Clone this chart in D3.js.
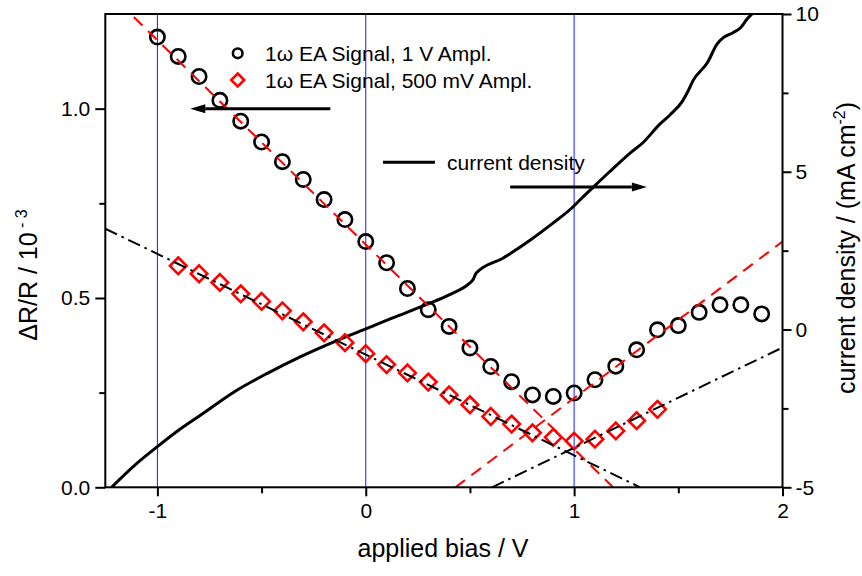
<!DOCTYPE html>
<html>
<head>
<meta charset="utf-8">
<script src="https://cdn.jsdelivr.net/npm/d3@7"></script>
<style>
  html, body { margin: 0; padding: 0; background: #fff; }
  svg text { font-family: "Liberation Sans", Arial, sans-serif; fill: #000; }
</style>
</head>
<body>
<svg id="chart" width="862" height="576"></svg>
<script>
// Electroabsorption signal (1ω) vs. applied bias, with current density on the right axis.

// 1 V modulation amplitude
const biasAmp1V = [-1.0, -0.9, -0.8, -0.7, -0.6, -0.5, -0.4, -0.3, -0.2, -0.1, 0.0, 0.1, 0.2, 0.3, 0.4,
                   0.5, 0.6, 0.7, 0.8, 0.9, 1.0, 1.1, 1.2, 1.3, 1.4, 1.5, 1.6, 1.7, 1.8, 1.9];
const signalAmp1V = [1.189, 1.138, 1.085, 1.022, 0.967, 0.912, 0.860, 0.813, 0.760, 0.707, 0.649, 0.593,
                     0.525, 0.469, 0.425, 0.368, 0.319, 0.279, 0.244, 0.240, 0.249, 0.284, 0.320, 0.363,
                     0.416, 0.427, 0.462, 0.482, 0.482, 0.458];

// 500 mV modulation amplitude
const biasAmp500mV = [-0.9, -0.8, -0.7, -0.6, -0.5, -0.4, -0.3, -0.2, -0.1, 0.0, 0.1, 0.2, 0.3, 0.4,
                      0.5, 0.6, 0.7, 0.8, 0.9, 1.0, 1.1, 1.2, 1.3, 1.4];
const signalAmp500mV = [0.585, 0.564, 0.541, 0.511, 0.491, 0.466, 0.437, 0.408, 0.382, 0.353, 0.324,
                        0.302, 0.278, 0.244, 0.218, 0.187, 0.167, 0.144, 0.132, 0.122, 0.127, 0.149,
                        0.176, 0.206];

// Current density (mA cm^-2) vs. bias
const biasJ = [-1.22, -1.10, -1.00, -0.90, -0.79, -0.63, -0.47, -0.31, -0.15, 0.00, 0.07, 0.13, 0.29,
               0.40, 0.50, 0.515, 0.53, 0.66, 0.79, 0.90, 0.99, 1.03, 1.09, 1.17, 1.27, 1.33, 1.41,
               1.46, 1.52, 1.55, 1.57, 1.64, 1.685, 1.716, 1.76, 1.80, 1.83, 1.87];
const currentJ = [-5.0, -4.25, -3.71, -3.2, -2.70, -1.97, -1.38, -0.85, -0.38, 0.02, 0.21, 0.37, 0.79,
                  1.10, 1.48, 1.58, 1.79, 2.27, 2.84, 3.38, 3.86, 4.12, 4.50, 5.00, 5.60, 5.92, 6.50,
                  6.80, 7.24, 7.60, 7.88, 8.46, 9.04, 9.25, 9.40, 9.57, 9.84, 10.1];

// Linear fits (end points, bias in V, signal in 10^-3)
const fit1VFalling = [[-1.25, 1.316], [1.187, 0]];
const fit1VRising = [[0.43, 0], [2.0, 0.649]];
const fit500mVFalling = [[-1.25, 0.683], [1.317, 0]];
const fit500mVRising = [[0.606, 0], [2.0, 0.369]];

// Reference bias lines
const guideBias = [-1, 0, 1];

// Axis ticks
const xMajor = [-1, 0, 1, 2];
const xMinor = [-0.5, 0.5, 1.5];
const yMajor = [0.0, 0.5, 1.0];
const yMinor = [0.25, 0.75];
const jMajor = [-5, 0, 5, 10];
const jMinor = [-2.5, 2.5, 7.5];

const legendLabels = ["1\u03c9 EA Signal, 1 V Ampl.", "1\u03c9 EA Signal, 500 mV Ampl.", "current density"];

// ---- layout ----
const svg = d3.select("#chart");
const plotL = 105.3, plotR = 782.5, plotT = 14, plotB = 487.3;

const x = d3.scaleLinear().domain([-1.25, 2]).range([plotL, plotR]);
const y = d3.scaleLinear().domain([0, 1.25]).range([plotB, plotT]);
const yJ = d3.scaleLinear().domain([-5, 10]).range([plotB, plotT]);

// integer labels with a plain hyphen for negatives
const intFmt = d => String(Math.round(d));

svg.append("defs").append("clipPath").attr("id", "plot-clip")
  .append("rect").attr("x", plotL).attr("y", plotT).attr("width", plotR - plotL).attr("height", plotB - plotT);

const plot = svg.append("g").attr("clip-path", "url(#plot-clip)");

// blue guide lines
plot.selectAll("line.guide").data(guideBias).join("line")
  .attr("class", "guide")
  .attr("x1", d => x(d)).attr("x2", d => x(d))
  .attr("y1", plotT).attr("y2", plotB)
  .attr("stroke", "#1a1aff").attr("stroke-width", 1);

// current density curve
const jLine = d3.line().x(d => x(d[0])).y(d => yJ(d[1])).curve(d3.curveMonotoneX);
plot.append("path")
  .datum(biasJ.map((b, i) => [b, currentJ[i]]))
  .attr("d", jLine)
  .attr("fill", "none").attr("stroke", "#000").attr("stroke-width", 3)
  .attr("stroke-linejoin", "round");

// markers: 1 V circles
plot.selectAll("circle.amp1").data(biasAmp1V.map((b, i) => [b, signalAmp1V[i]])).join("circle")
  .attr("class", "amp1")
  .attr("cx", d => x(d[0])).attr("cy", d => y(d[1])).attr("r", 7.2)
  .attr("fill", "none").attr("stroke", "#000").attr("stroke-width", 2.6);

// markers: 500 mV diamonds
const diamond = (cx, cy, h) => `M${cx},${cy - h}L${cx + h},${cy}L${cx},${cy + h}L${cx - h},${cy}Z`;
plot.selectAll("path.amp500").data(biasAmp500mV.map((b, i) => [b, signalAmp500mV[i]])).join("path")
  .attr("class", "amp500")
  .attr("d", d => diamond(x(d[0]), y(d[1]), 8.3))
  .attr("fill", "none").attr("stroke", "#ff0000").attr("stroke-width", 2.6)
  .attr("stroke-linejoin", "miter");

// fit lines
const seg = d3.line().x(d => x(d[0])).y(d => y(d[1]));
[fit1VFalling, fit1VRising].forEach(f => {
  plot.append("path").attr("d", seg(f))
    .attr("fill", "none").attr("stroke", "#ff0000").attr("stroke-width", 2)
    .attr("stroke-dasharray", "12,8");
});
[fit500mVFalling, fit500mVRising].forEach(f => {
  plot.append("path").attr("d", seg(f))
    .attr("fill", "none").attr("stroke", "#000").attr("stroke-width", 2)
    .attr("stroke-dasharray", "13,5,2.5,5");
});

// ---- axes ----
function styleAxis(g) {
  g.select(".domain").remove();
  g.selectAll(".tick line").attr("stroke", "#000").attr("stroke-width", 2);
  g.selectAll(".tick text").attr("font-size", 21).attr("fill", "#000")
    .style("font-family", '"Liberation Sans", Arial, sans-serif');
}

svg.append("g").attr("transform", `translate(0,${plotB})`)
  .call(d3.axisBottom(x).tickValues(xMajor).tickSize(9).tickPadding(7).tickFormat(intFmt))
  .call(styleAxis);
svg.append("g").attr("transform", `translate(0,${plotB})`)
  .call(d3.axisBottom(x).tickValues(xMinor).tickSize(6).tickFormat(""))
  .call(styleAxis);

svg.append("g").attr("transform", `translate(${plotL},0)`)
  .call(d3.axisLeft(y).tickValues(yMajor).tickSize(10).tickPadding(5).tickFormat(d3.format(".1f")))
  .call(styleAxis);
svg.append("g").attr("transform", `translate(${plotL},0)`)
  .call(d3.axisLeft(y).tickValues(yMinor).tickSize(6).tickFormat(""))
  .call(styleAxis);

svg.append("g").attr("transform", `translate(${plotR},0)`)
  .call(d3.axisRight(yJ).tickValues(jMajor).tickSize(9).tickPadding(4).tickFormat(intFmt))
  .call(styleAxis);
svg.append("g").attr("transform", `translate(${plotR},0)`)
  .call(d3.axisRight(yJ).tickValues(jMinor).tickSize(6).tickFormat(""))
  .call(styleAxis);

// frame
svg.append("rect").attr("x", plotL).attr("y", plotT).attr("width", plotR - plotL).attr("height", plotB - plotT)
  .attr("fill", "none").attr("stroke", "#000").attr("stroke-width", 2);

// axis titles
svg.append("text").attr("x", 443).attr("y", 557).attr("text-anchor", "middle")
  .attr("font-size", 25).text("applied bias / V");

const yTitle = svg.append("text").attr("transform", "translate(37,275) rotate(-90)")
  .attr("text-anchor", "middle").attr("font-size", 25);
yTitle.append("tspan").text("\u0394R/R / 10");
yTitle.append("tspan").attr("dy", -10).attr("font-size", 16).text(" - 3");

const jTitle = svg.append("text").attr("transform", "translate(855,248) rotate(-90)")
  .attr("text-anchor", "middle").attr("font-size", 25);
jTitle.append("tspan").text("current density / (mA cm");
jTitle.append("tspan").attr("dy", -10).attr("font-size", 16).text("-2");
jTitle.append("tspan").attr("dy", 10).text(")");

// ---- legend ----
const legend = svg.append("g");
legend.append("circle").attr("cx", 237.7).attr("cy", 53.3).attr("r", 4.8)
  .attr("fill", "none").attr("stroke", "#000").attr("stroke-width", 2.6);
legend.append("path").attr("d", diamond(237.7, 80, 6.5))
  .attr("fill", "none").attr("stroke", "#ff0000").attr("stroke-width", 2.6);
legend.append("text").attr("x", 265).attr("y", 60.5).attr("font-size", 21).text(legendLabels[0]);
legend.append("text").attr("x", 265).attr("y", 87.5).attr("font-size", 21).text(legendLabels[1]);
legend.append("line").attr("x1", 383).attr("x2", 435).attr("y1", 162.3).attr("y2", 162.3)
  .attr("stroke", "#000").attr("stroke-width", 3);
legend.append("text").attr("x", 447).attr("y", 169.5).attr("font-size", 21).text(legendLabels[2]);

// ---- axis-pointing arrows (data units) ----
function arrow(x0, x1, yPix, dir) {
  const tip = x1, base = x1 - dir * 15;
  svg.append("line").attr("x1", x0).attr("x2", base).attr("y1", yPix).attr("y2", yPix)
    .attr("stroke", "#000").attr("stroke-width", 3);
  svg.append("path").attr("d", `M${tip},${yPix}L${base},${yPix - 4.5}L${base},${yPix + 4.5}Z`)
    .attr("fill", "#000");
}
arrow(x(-0.17), x(-0.842), y(1.0), -1);   // signal → left axis
arrow(x(0.693), x(1.349), yJ(4.52), 1);    // current → right axis
</script>
</body>
</html>
